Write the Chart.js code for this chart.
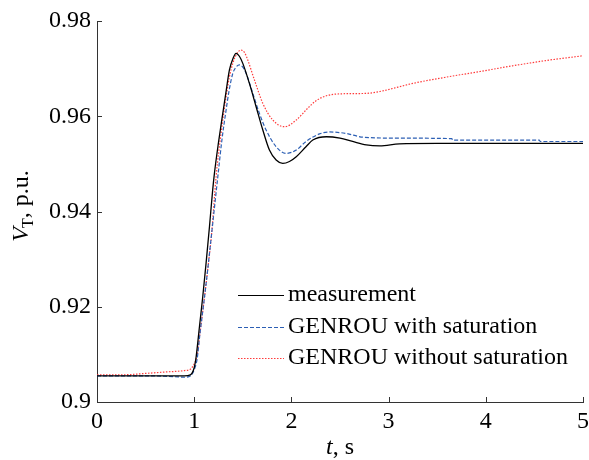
<!DOCTYPE html>
<html>
<head>
<meta charset="utf-8">
<script src="https://cdn.jsdelivr.net/npm/chart.js@4/dist/chart.umd.min.js"></script>
<style>
  html, body { margin: 0; padding: 0; background: #fff; }
  #wrap { width: 589px; height: 460px; }
</style>
</head>
<body>
<div id="wrap"><canvas id="vtChart" width="589" height="460"></canvas></div>
<script>
/* values */
var measTime = [0, 0.5, 0.9, 0.96, 1.0, 1.02, 1.054, 1.088, 1.122, 1.157, 1.19, 1.208, 1.25, 1.294, 1.33, 1.362, 1.40, 1.431, 1.465, 1.5, 1.568, 1.637, 1.706, 1.774, 1.843, 1.911, 1.98, 2.05, 2.15, 2.22, 2.36, 2.5, 2.63, 2.77, 2.91, 3.11, 3.5, 4.0, 4.5, 5.0];
var measV = [0.9055, 0.9055, 0.9055, 0.9057, 0.9072, 0.9095, 0.9158, 0.9221, 0.9291, 0.9368, 0.9445, 0.9480, 0.9545, 0.9606, 0.9655, 0.9697, 0.9722, 0.9732, 0.9726, 0.9711, 0.9669, 0.9620, 0.9571, 0.9529, 0.9508, 0.9501, 0.9505, 0.9515, 0.9536, 0.9550, 0.9557, 0.9554, 0.9547, 0.9540, 0.9538, 0.9542, 0.9543, 0.9543, 0.9543, 0.9543];

var satTime = [0, 0.5, 0.8, 0.9, 0.97, 1.0, 1.03, 1.06, 1.1, 1.14, 1.18, 1.243, 1.285, 1.328, 1.36, 1.397, 1.43, 1.466, 1.5, 1.534, 1.603, 1.671, 1.74, 1.843, 1.946, 2.05, 2.15, 2.29, 2.39, 2.56, 2.74, 3.11, 3.65, 3.66, 4.55, 4.56, 5.0];
var satV = [0.9055, 0.9055, 0.9053, 0.9052, 0.9056, 0.9068, 0.9090, 0.9145, 0.9210, 0.9280, 0.9355, 0.9473, 0.9550, 0.9613, 0.9655, 0.9690, 0.9703, 0.9708, 0.9703, 0.9690, 0.9648, 0.9606, 0.9571, 0.9536, 0.9522, 0.9529, 0.9547, 0.9563, 0.9567, 0.9564, 0.9556, 0.9554, 0.9553, 0.9550, 0.9550, 0.9547, 0.9547];

var noSatTime = [0, 0.25, 0.5, 0.7, 0.9, 0.96, 1.0, 1.03, 1.06, 1.1, 1.14, 1.18, 1.225, 1.28, 1.328, 1.36, 1.397, 1.44, 1.483, 1.52, 1.551, 1.62, 1.706, 1.809, 1.929, 2.05, 2.169, 2.25, 2.36, 2.5, 2.77, 2.91, 3.25, 3.59, 3.94, 4.28, 4.62, 5.0];
var noSatV = [0.9057, 0.9057, 0.9060, 0.9063, 0.9066, 0.9069, 0.9080, 0.9098, 0.9145, 0.9210, 0.9280, 0.9355, 0.9473, 0.9570, 0.9641, 0.9680, 0.9711, 0.9732, 0.9739, 0.9733, 0.9718, 0.9676, 0.9627, 0.9592, 0.9578, 0.9592, 0.9617, 0.9632, 0.9643, 0.9647, 0.9648, 0.9652, 0.9669, 0.9682, 0.9694, 0.9706, 0.9717, 0.9727];

var seriesLabels = ['measurement', 'GENROU with saturation', 'GENROU without saturation'];
var xTicks = [0, 1, 2, 3, 4, 5];
var yTicks = [0.9, 0.92, 0.94, 0.96, 0.98];

var FONT = '"Liberation Serif", "Times New Roman", serif';
var FS = 24;

function toPoints(xs, ys) {
    var pts = [];
    for (var i = 0; i < xs.length; i++) {
        pts.push({ x: xs[i], y: ys[i] });
    }
    return pts;
}

/* inward ticks, axis titles and legend drawn on top */
var decorations = {
    id: 'decorations',
    afterDraw: function (chart) {
        var ctx = chart.ctx;
        var area = chart.chartArea;
        var xs = chart.scales.x, ys = chart.scales.y;
        ctx.save();

        // inward tick marks
        ctx.strokeStyle = '#333';
        ctx.lineWidth = 1;
        ctx.beginPath();
        xTicks.forEach(function (v) {
            var px = Math.round(xs.getPixelForValue(v)) + 0.5;
            ctx.moveTo(px, area.bottom);
            ctx.lineTo(px, area.bottom - 5);
        });
        yTicks.forEach(function (v) {
            var py = Math.round(ys.getPixelForValue(v)) + 0.5;
            ctx.moveTo(area.left, py);
            ctx.lineTo(area.left + 5, py);
        });
        ctx.stroke();

        // x axis title: italic t
        ctx.fillStyle = '#000';
        ctx.textBaseline = 'middle';
        var cx = (area.left + area.right) / 2;
        var ty = 448;
        ctx.font = 'italic ' + FS + 'px ' + FONT;
        var w1 = ctx.measureText('t').width;
        ctx.font = FS + 'px ' + FONT;
        var w2 = ctx.measureText(', s').width;
        var sx = cx - (w1 + w2) / 2;
        ctx.textAlign = 'left';
        ctx.font = 'italic ' + FS + 'px ' + FONT;
        ctx.fillText('t', sx, ty);
        ctx.font = FS + 'px ' + FONT;
        ctx.fillText(', s', sx + w1, ty);

        // y axis title: V with subscript T
        ctx.save();
        ctx.translate(22, (area.top + area.bottom) / 2 - 6);
        ctx.rotate(-Math.PI / 2);
        ctx.font = 'italic ' + FS + 'px ' + FONT;
        var wv = ctx.measureText('V').width;
        ctx.font = '16px ' + FONT;
        var wt = ctx.measureText('T').width;
        ctx.font = FS + 'px ' + FONT;
        var wr = ctx.measureText(', p.u.').width;
        var yx = -(wv + wt + wr) / 2;
        ctx.font = 'italic ' + FS + 'px ' + FONT;
        ctx.fillText('V', yx, 0);
        ctx.font = '16px ' + FONT;
        ctx.fillText('T', yx + wv - 1, 7);
        ctx.font = FS + 'px ' + FONT;
        ctx.fillText(', p.u.', yx + wv + wt - 1, 0);
        ctx.restore();

        // legend
        var rowsY = [295, 327, 358];
        chart.data.datasets.forEach(function (ds, i) {
            var y = rowsY[i] + 0.5;
            ctx.strokeStyle = ds.borderColor;
            ctx.lineWidth = 1;
            ctx.setLineDash(ds.borderDash || []);
            ctx.beginPath();
            ctx.moveTo(238, y);
            ctx.lineTo(284, y);
            ctx.stroke();
            ctx.setLineDash([]);
            ctx.fillStyle = '#000';
            ctx.font = FS + 'px ' + FONT;
            ctx.textAlign = 'left';
            ctx.fillText(ds.label, 288, rowsY[i]);
        });
        ctx.restore();
    }
};

var ctx = document.getElementById('vtChart').getContext('2d');
var chart = new Chart(ctx, {
    type: 'line',
    data: {
        datasets: [{
            label: seriesLabels[0],
            data: toPoints(measTime, measV),
            borderColor: '#000000',
            borderWidth: 1.3,
            cubicInterpolationMode: 'monotone'
        }, {
            label: seriesLabels[1],
            data: toPoints(satTime, satV),
            borderColor: '#2c5fb4',
            borderWidth: 1.2,
            borderDash: [4, 2],
            cubicInterpolationMode: 'monotone'
        }, {
            label: seriesLabels[2],
            data: toPoints(noSatTime, noSatV),
            borderColor: '#ff3b3b',
            borderWidth: 1.2,
            borderDash: [1.5, 1.5],
            cubicInterpolationMode: 'monotone'
        }]
    },
    options: {
        responsive: false,
        animation: false,
        devicePixelRatio: 1,
        layout: { padding: { top: 21, right: 6, left: 0, bottom: 0 } },
        elements: { point: { radius: 0 } },
        plugins: {
            legend: { display: false },
            tooltip: { enabled: false }
        },
        scales: {
            x: {
                type: 'linear',
                min: 0,
                max: 5,
                grid: { display: true, drawOnChartArea: false, drawTicks: false, color: '#333' },
                border: { display: true, color: '#333', width: 1 },
                afterBuildTicks: function (scale) {
                    scale.ticks = xTicks.map(function (v) { return { value: v }; });
                },
                afterFit: function (scale) {
                    scale.height = 58;
                    scale.paddingLeft = 0;
                    scale.paddingRight = 0;
                },
                ticks: {
                    padding: 5,
                    color: '#000',
                    font: { family: FONT, size: FS },
                    maxRotation: 0
                }
            },
            y: {
                type: 'linear',
                min: 0.9,
                max: 0.98,
                grid: { display: true, drawOnChartArea: false, drawTicks: false, color: '#333' },
                border: { display: true, color: '#333', width: 1 },
                afterBuildTicks: function (scale) {
                    scale.ticks = yTicks.map(function (v) { return { value: v }; });
                },
                afterFit: function (scale) {
                    scale.width = 97;
                    scale.paddingTop = 0;
                    scale.paddingBottom = 0;
                },
                ticks: {
                    padding: 6,
                    color: '#000',
                    font: { family: FONT, size: FS },
                    callback: function (v) { return String(Math.round(v * 100) / 100); }
                }
            }
        }
    },
    plugins: [decorations]
});
</script>
</body>
</html>
